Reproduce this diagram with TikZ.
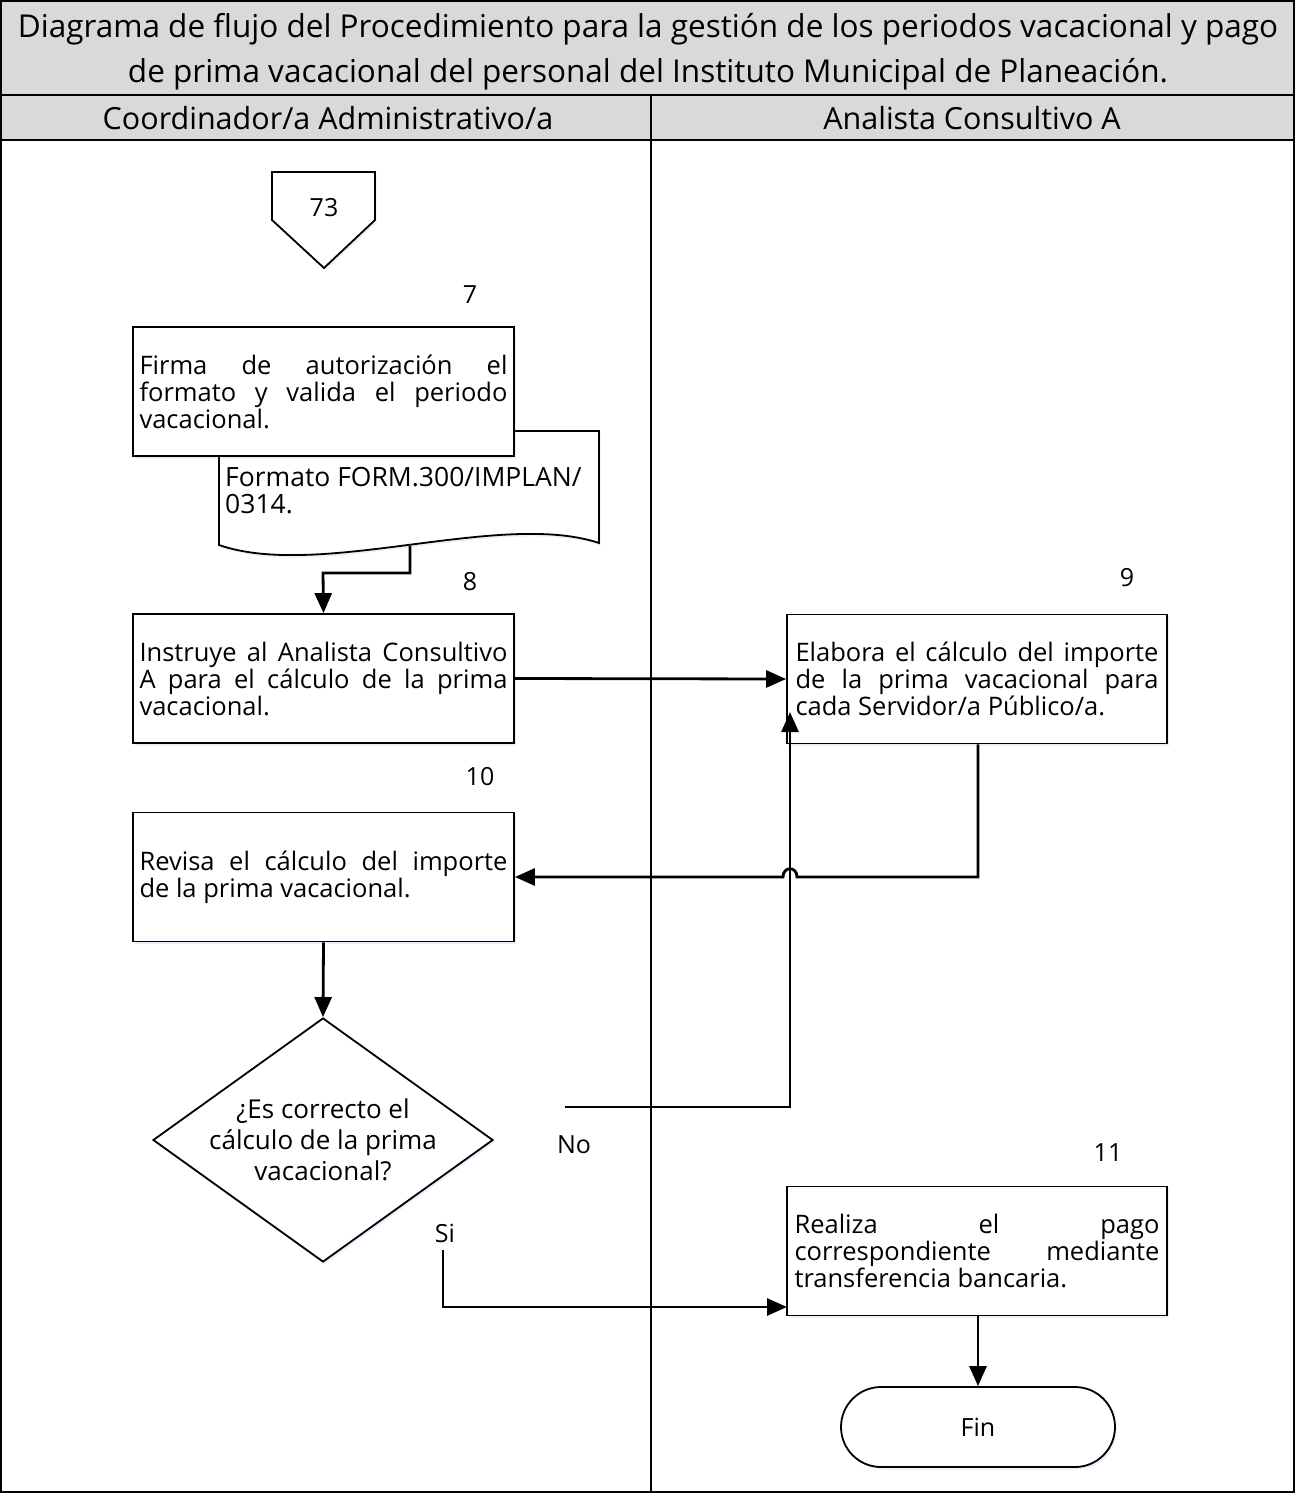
\documentclass[tikz,border=0pt]{standalone}
\usepackage{fontspec}
\setmainfont{Open Sans}
\usetikzlibrary{arrows.meta,shapes.geometric,shadows}
\definecolor{hdr}{HTML}{D9D9D9}
\begin{document}
\begin{tikzpicture}[x=1pt,y=-1pt,
  lane/.style={line width=1.6pt},
  procbox/.style={draw,line width=1.8pt,minimum width=381pt,minimum height=129pt,inner sep=0pt,
    text width=368pt,align=justify,font=\fontsize{25.5}{27}\selectfont,fill=white,
    drop shadow={shadow xshift=1.5pt,shadow yshift=-2.5pt,opacity=0.18,fill=blue!40}},
  numlbl/.style={font=\fontsize{25}{27}\selectfont,inner sep=0pt},
  conn/.style={line width=2.8pt,-{Triangle[length=20pt,width=17pt]}},
  txt/.style={font=\fontsize{25}{27}\selectfont,inner sep=0pt}
]
\useasboundingbox (0,0) rectangle (1295,1493);
% header bands
\fill[hdr] (0,0) rectangle (1295,140);
\draw[lane] (0.8,0.8) rectangle (1294.2,1492.2);
\draw[lane] (0,95) -- (1295,95);
\draw[lane] (0,140) -- (1295,140);
\draw[lane] (651,95) -- (651,1493);
\node[font=\fontsize{31.5}{45}\selectfont,align=center,inner sep=0pt] (title) at (648,52)
  {Diagrama de flujo del Procedimiento para la gestión de los periodos vacacional y pago\\
   de prima vacacional del personal del Instituto Municipal de Planeación.};
\node[font=\fontsize{30.5}{32}\selectfont,inner sep=0pt] (laneA) at (328,118) {Coordinador/a Administrativo/a};
\node[font=\fontsize{30.5}{32}\selectfont,inner sep=0pt] (laneB) at (972,118) {Analista Consultivo A};

% off-page connector 73
\draw[line width=1.8pt,fill=white,drop shadow={shadow xshift=1.5pt,shadow yshift=-2.5pt,opacity=0.18,fill=blue!40}]
  (272,172) -- (375,172) -- (375,220) -- (324,268) -- (272,220) -- cycle;
\node[txt] (c73) at (324,208) {73};

% step 7
\node[numlbl] (n7) at (470,295) {7};
% document (drawn first so box 7 overlaps)
\draw[line width=1.8pt,fill=white,drop shadow={shadow xshift=1.5pt,shadow yshift=-2.5pt,opacity=0.18,fill=blue!40}]
  (219,431) -- (599,431) -- (599,543) .. controls (500,510) and (320,580) .. (219,545) -- cycle;
\coordinate (docbot) at (410,546);
\node[txt,anchor=west,align=left,font=\fontsize{26.5}{27}\selectfont] (doc) at (225,491) {Formato FORM.300/IMPLAN/\\0314.};
\node[procbox] (b7) at (323.5,391.5)
  {Firma\hfill de\hfill autorización\hfill el\\formato\hfill y\hfill valida\hfill el\hfill periodo\\vacacional.};

% step 8
\node[numlbl] (n8) at (470,582) {8};
\node[procbox] (b8) at (323.5,678.5)
  {Instruye\hfill al\hfill Analista\hfill Consultivo\\A\hfill para\hfill el\hfill cálculo\hfill de\hfill la\hfill prima\\vacacional.};
\draw[conn] (docbot) -- (410,573) -- (323,573) -- (b8.north);

% step 9
\node[numlbl] (n9) at (1127,578) {9};
\node[procbox,minimum width=380pt,text width=363pt] (b9) at (977,679)
  {Elabora\hfill el\hfill cálculo\hfill del\hfill importe\\de\hfill la\hfill prima\hfill vacacional\hfill para\\cada Servidor/a Público/a.};
\draw[conn] (b8.east) -- (b9.west);

% step 10
\node[numlbl] (n10) at (480,777) {10};
\node[procbox] (b10) at (323.5,877)
  {Revisa\hfill el\hfill cálculo\hfill del\hfill importe\\de la prima vacacional.};
\draw[conn] (b9.south -| 978,0) -- (978,877) -- (797,877) .. controls (797,866) and (783,866) .. (783,877) -- (b10.east);

% decision
\node[draw,diamond,line width=1.8pt,minimum width=340pt,minimum height=244pt,inner sep=0pt,aspect=1.39,fill=white,
  drop shadow={shadow xshift=1.5pt,shadow yshift=-2.5pt,opacity=0.18,fill=blue!40}] (d) at (323,1140) {};
\node[txt,align=center,font=\fontsize{26}{31}\selectfont] (dtxt) at (323,1140) {¿Es correcto el\\cálculo de la prima\\vacacional?};
\draw[conn] (b10.south) -- (d.north);

% No branch
\coordinate (nostart) at (565,1107);
\node[txt] (no) at (574,1145) {No};
\draw[conn] (nostart) -- (790,1107) -- (790,712);

% step 11
\node[numlbl] (n11) at (1108,1153) {11};
\node[procbox,minimum width=380pt,text width=365pt] (b11) at (977,1251)
  {Realiza\hfill el\hfill pago\\correspondiente\hfill mediante\\transferencia bancaria.};
\node[txt] (si) at (445,1233) {Si};
\coordinate (sistart) at (443,1250);
\draw[conn] (sistart) -- (443,1307) -- (787,1307);

% Fin
\node[draw,line width=1.8pt,rounded corners=40pt,minimum width=274pt,minimum height=80pt,fill=white,
  drop shadow={shadow xshift=1.5pt,shadow yshift=-2.5pt,opacity=0.18,fill=blue!40},txt] (fin) at (978,1427) {Fin};
\draw[conn] (b11.south -| 978,0) -- (fin.north);
\end{tikzpicture}
\end{document}
